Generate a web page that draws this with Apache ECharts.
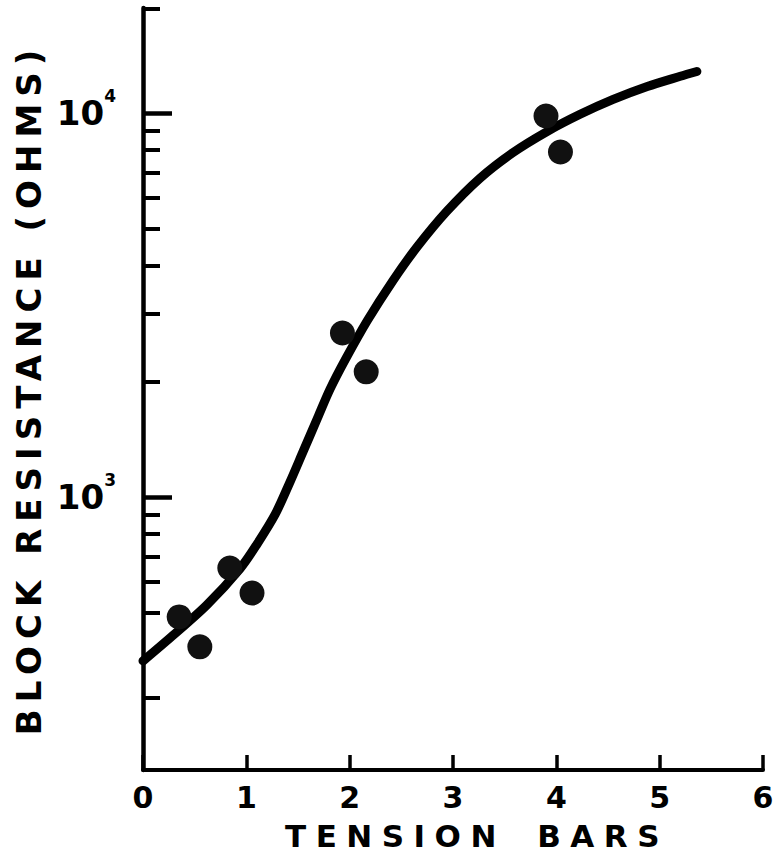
<!DOCTYPE html>
<html>
<head>
<meta charset="utf-8">
<script src="https://cdn.jsdelivr.net/npm/echarts@6/dist/echarts.min.js"></script>
<style>
html,body{margin:0;padding:0;background:#fff;}
#c{width:778px;height:858px;}
</style>
</head>
<body>
<div id="c"></div>
<script>
// ---- data ----
const xName = 'TENSION BARS';
const yName = 'BLOCK RESISTANCE (OHMS)';
const xTicks = [0, 1, 2, 3, 4, 5, 6];
const yRange = [194.5, 18760];
const yMajorTicks = [1000, 10000];
const yMajorExponents = ['3', '4'];
const yMinorTicks = [300, 500, 600, 700, 800, 900, 2000, 3000, 4000, 5000, 6000, 7000, 8000, 9000, 18700];
const pointTension = [0.35, 0.55, 0.84, 1.055, 1.93, 2.16, 3.90, 4.04];
const pointResistance = [487, 407, 653, 562, 2673, 2117, 9820, 7910];
const curveTension = [0, 0.29, 0.62, 0.94, 1.10, 1.28, 1.42, 1.55, 1.69, 1.81, 1.96, 2.17, 2.42, 2.65, 2.94, 3.26, 3.58, 3.91, 4.23, 4.55, 4.88, 5.20, 5.36];
const curveResistance = [374, 436, 524, 651, 751, 902, 1090, 1314, 1607, 1908, 2284, 2876, 3663, 4467, 5543, 6757, 7882, 8943, 9917, 10844, 11717, 12455, 12818];

const FONT = 'DejaVu Sans';
const chart = echarts.init(document.getElementById('c'), null, {renderer: 'svg'});

const option = {
  animation: false,
  backgroundColor: '#ffffff',
  grid: {left: 143, right: 15, top: 8, bottom: 88},
  xAxis: {
    type: 'value',
    min: xTicks[0],
    max: xTicks[xTicks.length - 1],
    interval: 1,
    name: xName,
    nameLocation: 'middle',
    nameGap: 50,
    nameTextStyle: {fontFamily: FONT, fontSize: 31, fontWeight: 'bold', color: '#000', padding: [0, 0, 0, 48]},
    axisLine: {onZero: false, lineStyle: {color: '#000', width: 4}},
    axisTick: {inside: true, length: 15, lineStyle: {color: '#000', width: 3.5}},
    axisLabel: {fontFamily: FONT, fontSize: 30, fontWeight: 'bold', color: '#000', margin: 12},
    splitLine: {show: false}
  },
  yAxis: [
    {
      type: 'log',
      logBase: 10,
      min: yRange[0],
      max: yRange[1],
      position: 'left',
      name: yName,
      nameLocation: 'middle',
      nameGap: 92,
      nameTextStyle: {fontFamily: FONT, fontSize: 34, fontWeight: 'bold', color: '#000'},
      axisLine: {show: true, lineStyle: {color: '#000', width: 4.5}},
      axisTick: {show: true, inside: true, length: 29, customValues: yMajorTicks, lineStyle: {color: '#000', width: 4.5}},
      axisLabel: {
        show: true,
        margin: 27,
        customValues: yMajorTicks,
        formatter: function (v) {
          let i = 0, best = Infinity;
          yMajorTicks.forEach(function (t, k) { const d = Math.abs(t - v); if (d < best) { best = d; i = k; } });
          return '{m|10}{s|' + yMajorExponents[i] + '}';
        },
        rich: {
          m: {fontFamily: FONT, fontSize: 34, fontWeight: 'bold', color: '#000', lineHeight: 50},
          s: {fontFamily: FONT, fontSize: 17, fontWeight: 'bold', color: '#000', lineHeight: 17, verticalAlign: 'top'}
        }
      },
      splitLine: {show: false},
      minorTick: {show: false}
    },
    {
      type: 'log',
      logBase: 10,
      min: yRange[0],
      max: yRange[1],
      position: 'left',
      axisLine: {show: false},
      axisTick: {show: true, inside: true, length: 17, customValues: yMinorTicks, lineStyle: {color: '#000', width: 4}},
      axisLabel: {show: false},
      splitLine: {show: false}
    }
  ],
  series: [
    {
      type: 'line',
      yAxisIndex: 0,
      data: curveTension.map(function (x, i) { return [x, curveResistance[i]]; }),
      smooth: 0.3,
      showSymbol: false,
      symbol: 'none',
      lineStyle: {color: '#000', width: 9, cap: 'round', join: 'round'},
      z: 2
    },
    {
      type: 'scatter',
      yAxisIndex: 0,
      data: pointTension.map(function (x, i) { return [x, pointResistance[i]]; }),
      symbol: 'circle',
      symbolSize: 25,
      itemStyle: {color: '#111', opacity: 1},
      z: 3
    }
  ]
};
chart.setOption(option);

function tweak() {
  document.querySelectorAll('#c text').forEach(function (t) {
    const s = t.textContent;
    if (s === yName) {
      t.style.letterSpacing = '7px';
    } else if (s === xName) {
      t.style.letterSpacing = '9.5px';
      t.style.wordSpacing = '11px';
    }
  });
}
chart.on('finished', tweak);
try { chart.getZr().refreshImmediately(); } catch (e) {}
tweak();
setTimeout(tweak, 50);
</script>
</body>
</html>
